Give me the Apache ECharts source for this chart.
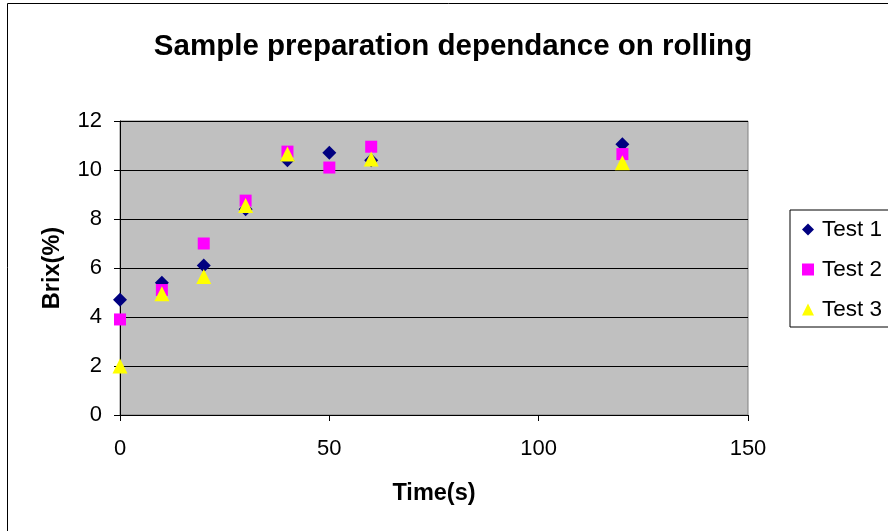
<!DOCTYPE html>
<html><head><meta charset="utf-8">
<script src="https://cdn.jsdelivr.net/npm/echarts@6/dist/echarts.min.js"></script>
<style>html,body{margin:0;padding:0;background:#fff}#c{width:888px;height:531px}</style>
</head><body><div id="c"></div>
<script>
var times = [0, 10, 20, 30, 40, 50, 60, 120];
var test1 = [4.7, 5.4, 6.1, 8.4, 10.4, 10.7, 10.4, 11.05];
var test2 = [3.9, 5.1, 7.0, 8.75, 10.75, 10.1, 10.95, 10.65];
var test3 = [2.0, 4.95, 5.65, 8.55, 10.65, null, 10.45, 10.3];
var seriesNames = ['Test 1', 'Test 2', 'Test 3'];
var xTicks = [0, 50, 100, 150];
var yTicks = [0, 2, 4, 6, 8, 10, 12];

function pairs(vals){ var o=[]; for(var i=0;i<times.length;i++){ if(vals[i]!=null) o.push([times[i], vals[i]]); } return o; }
var F = 'Liberation Sans, Arial, sans-serif';
var chart = echarts.init(document.getElementById('c'));
chart.setOption({
  animation:false,
  backgroundColor:'#fff',
  title:{text:'Sample preparation dependance on rolling', left:448, top:27, textAlign:'center',
    textStyle:{fontFamily:F, fontSize:29.5, fontWeight:'bold', color:'#000'}},
  graphic:[{type:'rect', shape:{x:7.5, y:3.5, width:900, height:600}, style:{fill:'none', stroke:'#000', lineWidth:1}, silent:true}],
  grid:{left:120, top:121, right:140, bottom:116, show:true, backgroundColor:'#c0c0c0', borderColor:'#808080', borderWidth:1},
  legend:{orient:'vertical', left:790, top:210, itemGap:17, padding:[8,30,6,12], borderColor:'#000', borderWidth:1, backgroundColor:'#fff',
    itemWidth:12, itemHeight:12, textStyle:{fontFamily:F, fontSize:22.5, color:'#000', padding:[0,0,0,3]}, data:seriesNames},
  xAxis:{type:'value', min:0, max:150, interval:50,
    axisLine:{lineStyle:{color:'#000'}}, axisTick:{show:true, inside:false, length:6, lineStyle:{color:'#000'}},
    splitLine:{show:false},
    axisLabel:{fontFamily:F, fontSize:22, color:'#000', margin:23},
    name:'Time(s)', nameLocation:'middle', nameGap:67, nameTextStyle:{fontFamily:F, fontSize:23.5, fontWeight:'bold', color:'#000'}},
  yAxis:{type:'value', min:0, max:12, interval:2,
    axisLine:{show:true, lineStyle:{color:'#000'}}, axisTick:{show:true, length:6, lineStyle:{color:'#000'}},
    splitLine:{show:true, lineStyle:{color:'#000', width:1}},
    axisLabel:{fontFamily:F, fontSize:22, color:'#000', margin:18},
    name:'Brix(%)', nameLocation:'middle', nameGap:55, nameTextStyle:{fontFamily:F, fontSize:23.5, fontWeight:'bold', color:'#000'}},
  series:[
    {name:'Test 1', type:'scatter', symbol:'diamond', symbolSize:14, itemStyle:{color:'#000080', opacity:1}, data:pairs(test1), z:3},
    {name:'Test 2', type:'scatter', symbol:'rect', symbolSize:12, itemStyle:{color:'#ff00ff', opacity:1}, data:pairs(test2), z:4},
    {name:'Test 3', type:'scatter', symbol:'triangle', symbolSize:15, itemStyle:{color:'#ffff00', opacity:1}, data:pairs(test3), z:5}
  ]
});
</script></body></html>
